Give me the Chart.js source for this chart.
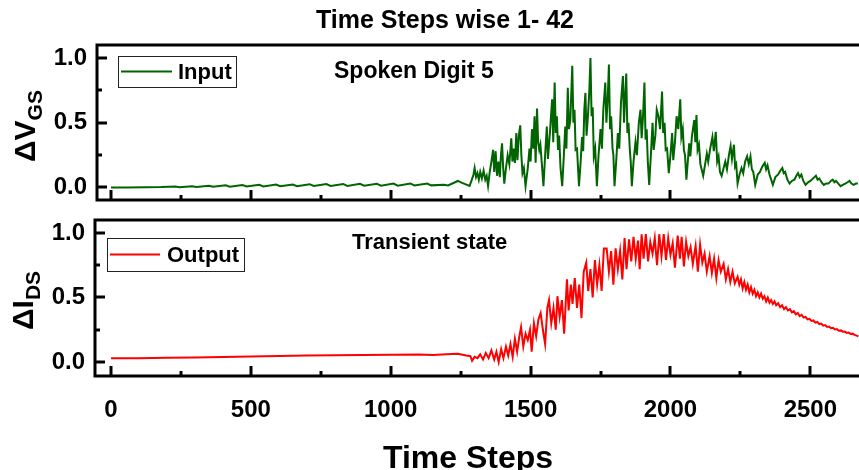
<!DOCTYPE html>
<html><head><meta charset="utf-8">
<script src="https://cdn.jsdelivr.net/npm/chart.js@4.4.0/dist/chart.umd.min.js"></script>
<style>
html,body{margin:0;padding:0;background:#fff;width:859px;height:470px;overflow:hidden}
#wrap{position:relative;width:859px;height:470px}
canvas{position:absolute;left:0}
#c1{top:0}#c2{top:210px}
</style></head><body>
<div id="wrap"><canvas id="c1" width="859" height="210"></canvas><canvas id="c2" width="859" height="260"></canvas></div>
<script>
const chartTitle = 'Time Steps wise 1- 42';
const xAxisTitle = 'Time Steps';
const xTicks = [0, 500, 1000, 1500, 2000, 2500];
const xMinorTicks = [250, 750, 1250, 1750, 2250];
const yTicks = [0, 0.5, 1.0];
const yMinorTicks = [0.25, 0.75];

const inputLabel = 'Input';
const inputNote = 'Spoken Digit 5';
const inputT = [0,60,120,180,230,245,290,305,350,365,410,425,470,485,530,545,590,605,650,665,710,725,770,785,830,845,890,905,950,965,1010,1025,1070,1085,1130,1145,1190,1205,1240,1255,
1282,1290,1296,1300,1305,1310,1315,1320,1326,1332,1338,1343,1348,1354,1360,1366,1370,1375,1380,1385,1390,1394,1398,1402,1406,1412,1418,1424,1431,1435,1440,1444,1449,1453,1458,1463,1467,1471,1476,1482,
1490,1496,1500,1505,1510,1514,1518,1523,1527,1531,1535,1540,1546,
1552,1558,1562,1570,1577,1581,1586,1590,1594,1598,1602,1607,1613,
1619,1624,1628,1633,1637,1642,1645,1649,1653,1657,1661,1666,1673,
1679,1684,1688,1692,1696,1700,1705,1710,1714,1718,1722,1726,1731,1737,
1743,1750,1755,1760,1767,1771,1776,1780,1784,1788,1793,1796,1800,
1806,1812,1817,1823,1830,1834,1838,1842,1846,1850,1855,1858,1862,
1868,1875,1880,1887,1893,1897,1902,1907,1911,1915,1919,1924,
1930,1936,1940,1946,1951,1957,1963,1970,1974,1979,1983,1988,1994,
2000,2006,2010,2016,2022,2028,2035,2039,2044,2048,2052,2057,
2062,2067,2071,2077,2085,2089,2093,2097,2102,2107,2117,
2124,2130,2135,2142,2150,2155,2162,2167,2172,2177,2183,
2190,2196,2202,2209,2215,2220,2227,2231,2235,2240,
2247,2254,2260,2267,2274,2280,2286,2291,2296,2303,
2312,2320,2328,2337,2342,2347,2354,2360,2366,
2375,2385,2393,2400,2405,2410,2418,2426,
2434,2443,2450,2456,2462,2468,2475,2483,
2492,2500,2510,2520,2526,2532,2540,2548,
2556,2565,2573,2580,2586,2592,2600,2608,
2616,2625,2633,2640,2647,2655,2663,2670];
const inputV = [0.000,0.000,0.002,0.003,0.008,0.002,0.010,0.004,0.013,0.005,0.016,0.006,0.018,0.007,0.020,0.008,0.022,0.009,0.023,0.010,0.025,0.011,0.026,0.012,0.027,0.012,0.028,0.013,0.029,0.013,0.030,0.014,0.031,0.015,0.030,0.016,0.020,0.016,0.050,0.035,
0.012,0.060,0.100,0.150,0.080,0.110,0.060,0.120,0.070,0.130,0.060,0.090,0.012,0.120,0.200,0.290,0.120,0.280,0.090,0.200,0.080,0.250,0.340,0.150,0.030,0.150,0.250,0.180,0.380,0.200,0.300,0.190,0.420,0.210,0.400,0.480,0.250,0.110,0.150,0.010,
0.150,0.300,0.200,0.450,0.300,0.550,0.190,0.610,0.350,0.290,0.330,0.190,0.010,
0.250,0.470,0.220,0.450,0.680,0.350,0.810,0.420,0.550,0.290,0.400,0.150,0.010,
0.250,0.470,0.300,0.770,0.450,0.520,0.700,0.940,0.500,0.600,0.290,0.300,0.010,
0.200,0.390,0.280,0.600,0.730,0.400,0.550,0.750,1.000,0.550,0.620,0.240,0.300,0.010,
0.250,0.450,0.300,0.600,0.810,0.500,0.700,0.950,0.450,0.550,0.300,0.250,0.010,
0.200,0.420,0.300,0.650,0.860,0.500,0.700,0.880,0.420,0.500,0.280,0.200,0.010,
0.200,0.350,0.250,0.500,0.600,0.380,0.550,0.810,0.370,0.450,0.200,0.020,
0.250,0.500,0.290,0.400,0.600,0.550,0.450,0.740,0.420,0.500,0.290,0.300,0.110,
0.250,0.420,0.210,0.350,0.550,0.450,0.680,0.390,0.450,0.290,0.250,0.060,
0.200,0.340,0.240,0.400,0.520,0.350,0.560,0.290,0.330,0.180,0.090,
0.180,0.260,0.200,0.300,0.390,0.280,0.430,0.200,0.240,0.120,0.090,
0.150,0.200,0.140,0.250,0.320,0.220,0.330,0.160,0.180,0.030,
0.100,0.150,0.110,0.200,0.240,0.180,0.240,0.140,0.120,0.020,
0.100,0.120,0.160,0.190,0.140,0.170,0.100,0.060,0.020,
0.080,0.100,0.130,0.150,0.110,0.120,0.060,0.030,
0.050,0.060,0.090,0.110,0.080,0.100,0.050,0.020,
0.040,0.050,0.070,0.090,0.060,0.070,0.040,0.020,
0.030,0.030,0.050,0.060,0.040,0.050,0.030,0.010,
0.020,0.030,0.040,0.050,0.030,0.020,0.030,0.030];

const outputLabel = 'Output';
const outputNote = 'Transient state';
const outputT = [0,100,200,300,400,500,600,700,800,900,1000,1100,1150,1200,1240,1270,1285,1291,1300,1310,1320,1330,1340,1350,1360,1370,1378,1386,1395,1403,1412,1420,1428,1436,1444,1452,1460,1466,1474,1482,1490,1498,1504,1512,1520,1528,1536,1544,1552,1560,1566,1574,1582,1590,1596,1604,1612,1620,1630,1636,1644,1650,1658,1666,1674,1682,1690,1699,1706,1714,1722,1730,1738,1746,1754,1762,1772,1780,1788,1796,1804,1812,1820,1828,1836,1843,1852,1860,1868,1876,1884,1890,1897,1904,1912,1920,1928,1936,1944,1952,1960,1968,1976,1984,1992,2000,2008,2016,2026,2034,2040,2048,2056,2064,2072,2080,2090,2098,2106,2114,2122,2130,2140,2148,2156,2164,2172,2180,2190,2198,2206,2214,2222,2230,
2240,2246,2252,2258,2264,2270,2276,2282,2288,2294,2300,2306,2312,2318,2324,2330,2336,2342,2348,2354,2360,2366,2372,2378,2385,2392,2399,2406,2413,2420,2427,2434,2441,2448,2455,2462,2469,2476,2483,2490,2497,2504,2511,2518,2525,2532,2539,2546,2553,2560,2567,2574,2581,2588,2595,2602,2609,2616,2623,2630,2637,2644,2651,2658,2665,2672];
const outputV = [0.030,0.030,0.033,0.036,0.040,0.043,0.046,0.050,0.052,0.054,0.056,0.058,0.055,0.060,0.065,0.050,0.045,0.010,0.040,0.030,0.060,0.020,0.070,0.030,0.090,0.020,0.080,0.000,0.100,0.030,0.120,0.050,0.140,0.040,0.180,0.080,0.200,0.270,0.120,0.220,0.170,0.250,0.080,0.300,0.200,0.330,0.380,0.250,0.140,0.420,0.480,0.300,0.420,0.250,0.510,0.350,0.480,0.220,0.640,0.400,0.600,0.450,0.650,0.420,0.600,0.340,0.700,0.770,0.550,0.720,0.500,0.790,0.600,0.750,0.550,0.880,0.880,0.700,0.860,0.600,0.880,0.720,0.860,0.640,0.960,0.720,0.950,0.780,0.970,0.800,0.940,0.720,0.990,0.800,0.990,0.780,0.930,0.840,0.960,0.750,0.990,0.820,0.990,0.790,0.960,0.830,0.920,0.730,0.980,0.800,0.970,0.740,0.930,0.820,0.890,0.760,0.900,0.700,0.910,0.770,0.840,0.700,0.820,0.690,0.800,0.650,0.790,0.700,0.760,0.640,0.720,0.620,0.700,0.610,
0.660,0.600,0.640,0.570,0.620,0.560,0.600,0.540,0.580,0.530,0.560,0.510,0.540,0.500,0.530,0.490,0.510,0.470,0.500,0.460,0.480,0.450,0.470,0.440,0.455,0.425,0.440,0.410,0.425,0.400,0.410,0.385,0.395,0.370,0.380,0.355,0.365,0.345,0.350,0.330,0.335,0.318,0.322,0.305,0.310,0.293,0.298,0.282,0.286,0.272,0.275,0.262,0.265,0.252,0.255,0.243,0.245,0.235,0.237,0.226,0.228,0.218,0.220,0.210,0.205,0.200];

const FONT = '"Liberation Sans", Arial, sans-serif';
const toXY = (ts, vs) => ts.map((t, i) => ({x: t, y: vs[i]}));

function framePlugin() {
  return {
    id: 'frame',
    afterDraw(chart) {
      const {ctx, chartArea: a, scales: {x, y}} = chart;
      ctx.save();
      ctx.strokeStyle = '#000';
      ctx.lineWidth = 3;
      ctx.lineJoin = 'miter';
      ctx.beginPath();
      ctx.moveTo(a.right + 2, a.top);
      ctx.lineTo(a.left, a.top);
      ctx.lineTo(a.left, a.bottom);
      ctx.lineTo(a.right + 2, a.bottom);
      ctx.stroke();
      const tick = (vals, len) => {
        ctx.lineWidth = 3;
        vals.forEach(v => {
          const px = Math.round(x.getPixelForValue(v));
          ctx.beginPath(); ctx.moveTo(px, a.bottom); ctx.lineTo(px, a.bottom - len); ctx.stroke();
        });
      };
      tick(xTicks, 10);
      tick(xMinorTicks, 5);
      const ytick = (vals, len) => {
        ctx.lineWidth = 3;
        vals.forEach(v => {
          const py = Math.round(y.getPixelForValue(v));
          ctx.beginPath(); ctx.moveTo(a.left, py); ctx.lineTo(a.left + len, py); ctx.stroke();
        });
      };
      ytick(yTicks, 10);
      ytick(yMinorTicks, 5);
      ctx.restore();
    }
  };
}

function textPlugin(o) {
  return {
    id: 'texts',
    afterDraw(chart) {
      const ctx = chart.ctx;
      const ds = chart.data.datasets[0];
      ctx.save();
      ctx.fillStyle = '#000';
      if (o.title) {
        ctx.font = 'bold 25px ' + FONT;
        ctx.textAlign = 'center'; ctx.textBaseline = 'middle';
        ctx.fillText(o.title, o.titleX, o.titleY);
      }
      if (o.xTitle) {
        ctx.font = 'bold 32px ' + FONT;
        ctx.textAlign = 'center'; ctx.textBaseline = 'middle';
        ctx.fillText(o.xTitle, o.xTitleX, o.xTitleY);
      }
      const L = o.legend;
      ctx.lineWidth = 1; ctx.strokeStyle = '#222';
      ctx.strokeRect(L.x + 0.5, L.y + 0.5, L.w, L.h);
      ctx.strokeStyle = ds.borderColor; ctx.lineWidth = 2;
      ctx.beginPath(); ctx.moveTo(L.x + 3, L.y + L.h / 2); ctx.lineTo(L.x + 3 + L.lineLen, L.y + L.h / 2); ctx.stroke();
      ctx.font = 'bold 22px ' + FONT; ctx.textAlign = 'left'; ctx.textBaseline = 'middle';
      ctx.fillText(ds.label, L.x + L.textOff, L.y + L.h / 2 + 1);
      ctx.font = 'bold ' + o.noteSize + 'px ' + FONT; ctx.textAlign = 'left'; ctx.textBaseline = 'middle';
      ctx.fillText(o.note, o.noteX, o.noteY);
      ctx.translate(o.yTitleX, o.yTitleY);
      ctx.rotate(-Math.PI / 2);
      ctx.textAlign = 'left'; ctx.textBaseline = 'alphabetic';
      ctx.font = 'bold 30px ' + FONT;
      ctx.fillText(o.yMain, 0, 0);
      const w = ctx.measureText(o.yMain).width;
      ctx.font = 'bold 21px ' + FONT;
      ctx.fillText(o.ySub, w, 7);
      ctx.restore();
    }
  };
}

function makeChart(id, cfg) {
  return new Chart(document.getElementById(id), {
    type: 'line',
    data: {datasets: [{
      label: cfg.label, data: cfg.data, borderColor: cfg.color, borderWidth: 2,
      pointRadius: 0, tension: 0, fill: false
    }]},
    options: {
      responsive: false, animation: false, events: [],
      layout: {padding: cfg.padding},
      plugins: {legend: {display: false}, title: {display: false}, tooltip: {enabled: false}},
      scales: {
        x: {
          type: 'linear', min: cfg.xMin, max: 2674, display: cfg.showX,
          grid: {display: false, drawTicks: false}, border: {display: false},
          afterBuildTicks: s => { s.ticks = xTicks.map(v => ({value: v})); },
          afterFit: s => { if (cfg.showX) { s.height = cfg.xHeight; } s.paddingLeft = 0; s.paddingRight = 0; },
          ticks: {color: '#000', padding: 20, maxRotation: 0, autoSkip: false,
            font: {family: FONT, size: 24, weight: 'bold'}, callback: v => String(v)}
        },
        y: {
          type: 'linear', min: cfg.yMin, max: cfg.yMax,
          grid: {display: false, drawTicks: false}, border: {display: false},
          afterBuildTicks: s => { s.ticks = yTicks.map(v => ({value: v})); },
          afterFit: s => { s.width = cfg.yWidth; s.paddingTop = 0; s.paddingBottom = 0; },
          ticks: {color: '#000', padding: 10,
            font: {family: FONT, size: 24, weight: 'bold'}, callback: v => v.toFixed(1)}
        }
      }
    },
    plugins: [framePlugin(), textPlugin(cfg.text)]
  });
}

makeChart('c1', {
  label: inputLabel, data: toXY(inputT, inputV), color: '#006400',
  padding: {top: 45, bottom: 10, left: 0, right: 0},
  xMin: -50, showX: false, yMin: -0.097, yMax: 1.1, yWidth: 97,
  text: {title: chartTitle, titleX: 445, titleY: 21,
    legend: {x: 118, y: 56, w: 118, h: 31, lineLen: 51, textOff: 60},
    note: inputNote, noteSize: 23, noteX: 334, noteY: 72,
    yMain: '\u0394V', ySub: 'GS', yTitleX: 35, yTitleY: 162}
});

makeChart('c2', {
  label: outputLabel, data: toXY(outputT, outputV), color: '#ff0000',
  padding: {top: 10, bottom: 0, left: 0, right: 0},
  xMin: -57, showX: true, xHeight: 94, yMin: -0.108, yMax: 1.1, yWidth: 95,
  text: {xTitle: xAxisTitle, xTitleX: 468, xTitleY: 249,
    legend: {x: 107, y: 28, w: 137, h: 33, lineLen: 50, textOff: 60},
    note: outputNote, noteSize: 22, noteX: 352, noteY: 33,
    yMain: '\u0394I', ySub: 'DS', yTitleX: 33, yTitleY: 120}
});
</script>
</body></html>
